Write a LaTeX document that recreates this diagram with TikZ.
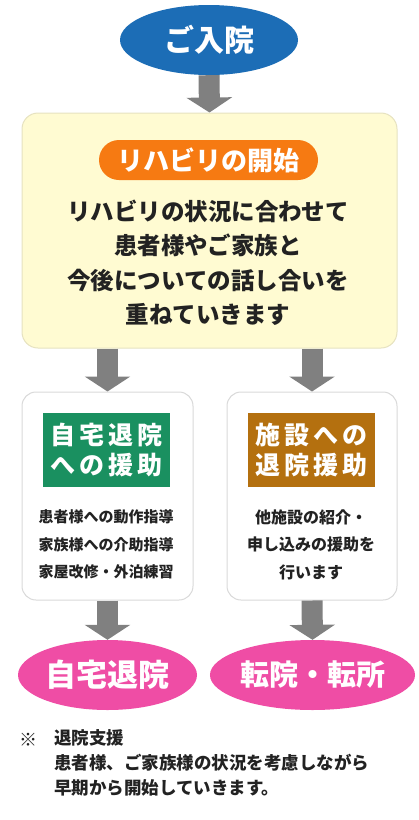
\documentclass[tikz,border=0pt]{standalone}
\usepackage{fontspec}
\setmainfont{Noto Sans CJK JP}
\usetikzlibrary{arrows.meta,shapes.geometric}
\definecolor{cblue}{HTML}{1C6DB6}
\definecolor{cyel}{HTML}{FFFBD2}
\definecolor{cyelb}{HTML}{E6E2C0}
\definecolor{corange}{HTML}{F67A12}
\definecolor{cgreen}{HTML}{1A9060}
\definecolor{cbrown}{HTML}{B4700F}
\definecolor{cpink}{HTML}{EF4DA5}
\definecolor{cgray}{HTML}{808080}
\definecolor{cbox}{HTML}{D9D9D9}
\definecolor{ctext}{HTML}{222222}
\tikzset{
  bfs/.style={font=\fontsize{#1}{#1}\selectfont\bfseries},
  oval/.style={ellipse, inner sep=0pt, text=white},
  bigarrow/.style={draw=cgray, line width=21pt, -{Triangle[length=15pt,width=45pt]}},
  panel/.style={draw=cbox, fill=white, line width=1pt, rounded corners=14pt, inner sep=0pt},
  label/.style={inner sep=0pt, text=white, align=center},
}
\begin{document}
\begin{tikzpicture}[x=1pt,y=-1pt]
\useasboundingbox (0,0) rectangle (419,820);
% top ellipse
\node[oval, fill=cblue, minimum width=178pt, minimum height=70pt, bfs=30] (start) at (209,40) {ご入院};
% yellow box
\node[panel, draw=cyelb, fill=cyel, minimum width=375pt, minimum height=235pt, rounded corners=16pt] (main) at (209.5,230.5) {};
\node[fill=corange, rounded corners=20pt, minimum width=219pt, minimum height=40pt, inner sep=0pt, text=white, bfs=26] (pill) at (208.5,160) {リハビリの開始};
\node[align=center, text=ctext, inner sep=0pt, font=\fontsize{23.5}{34.5}\selectfont\bfseries] (maintext) at (208,262.5)
  {リハビリの状況に合わせて\\患者様やご家族と\\今後についての話し合いを\\重ねていきます};
% arrow 1
\draw[bigarrow] (start.south) -- (main.north);
% white panels
\node[panel, minimum width=171pt, minimum height=208pt] (lbox) at (107.5,496) {};
\node[panel, minimum width=170pt, minimum height=208pt] (rbox) at (312,496) {};
\node[label, fill=cgreen, minimum width=127pt, minimum height=74pt, font=\fontsize{25}{30}\selectfont\bfseries] (lhead) at (106.5,450) {自\,宅\,退\,院\\へ\,の\,援\,助};
\node[label, fill=cbrown, minimum width=127pt, minimum height=74pt, font=\fontsize{25}{30}\selectfont\bfseries] (rhead) at (311.5,450) {施\,設\,へ\,の\\退\,院\,援\,助};
\node[align=center, text=ctext, inner sep=0pt, font=\fontsize{15}{27.5}\selectfont\bfseries] (ltext) at (106,544.5)
  {患者様への動作指導\\家族様への介助指導\\家屋改修・外泊練習};
\node[align=center, text=ctext, inner sep=0pt, font=\fontsize{16}{27.5}\selectfont\bfseries] (rtext) at (311,544.5)
  {他施設の紹介・\\申し込みの援助を\\行います};
% arrows 2,3
\draw[bigarrow] (main.south -| lbox.north) -- (lbox.north);
\draw[bigarrow] (main.south -| rbox.north) -- (rbox.north);
% pink ellipses
\node[oval, fill=cpink, minimum width=179pt, minimum height=70pt, bfs=31] (home) at (107.5,675) {自宅退院};
\node[oval, fill=cpink, minimum width=179pt, minimum height=70pt, bfs=29] (trans) at (312.5,675) {転院・転所};
% arrows 4,5
\draw[bigarrow] (lbox.south) -- (home.north);
\draw[bigarrow] (rbox.south) -- (trans.north);
% footnote
\node[anchor=west, inner sep=0pt, text=ctext, bfs=18] (mark) at (19,740) {※};
\node[anchor=north west, align=left, inner sep=0pt, text=ctext, font=\fontsize{17.5}{25}\selectfont\bfseries] (note) at (54,729.5)
  {退院支援\\患者様、ご家族様の状況を考慮しながら\\早期から開始していきます。};
\end{tikzpicture}
\end{document}
